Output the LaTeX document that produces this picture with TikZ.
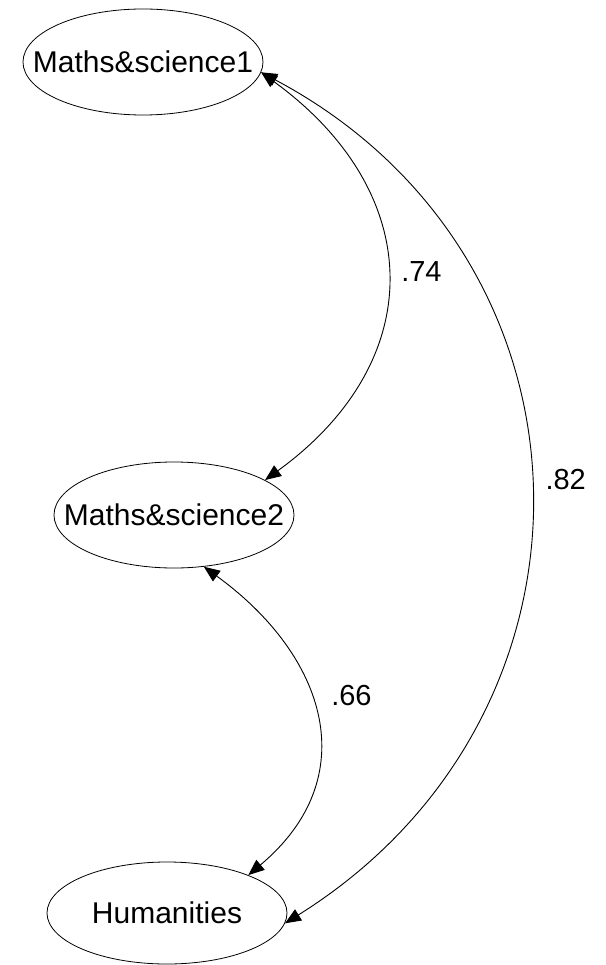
\documentclass[tikz,border=0pt]{standalone}
\usepackage{fontspec}
\setmainfont{Liberation Sans}
\usetikzlibrary{positioning,arrows.meta,shapes.geometric}

\begin{document}
\begin{tikzpicture}[
    x=1pt, y=1pt,
    >={Triangle[length=16pt,width=13pt]},
    factor/.style={draw, ellipse, line width=0.8pt, inner ysep=0pt,
        inner xsep=-26pt, minimum width=240pt, minimum height=106pt,
        font=\fontsize{30}{36}\selectfont},
    corr/.style={<->, line width=0.9pt},
    lbl/.style={right, inner sep=0pt, font=\fontsize{29}{35}\selectfont}
]
\useasboundingbox (0,0) rectangle (605,-965);

\node[factor] (ms1) at (143,-62) {Maths\&science1};
\node[factor] (ms2) at (174,-515) {Maths\&science2};
\node[factor, minimum height=102pt] (hum) at (167,-913) {Humanities};

% correlations
\draw[corr] (ms1.-5) .. controls +(-36:204) and +(36:204) .. (ms2.21)
    node[lbl, pos=0.5, xshift=14pt, yshift=5pt] (r12) {.74};
\draw[corr] (ms1.-5) .. controls +(-28:396) and +(32:396) .. (hum.-5)
    node[lbl, pos=0.5, xshift=15pt, yshift=9pt] (r13) {.82};
\draw[corr] (ms2.-60) .. controls +(-36:152) and +(40:152) .. (hum.25)
    node[lbl, pos=0.5, xshift=15pt, yshift=22pt] (r23) {.66};

\end{tikzpicture}
\end{document}
